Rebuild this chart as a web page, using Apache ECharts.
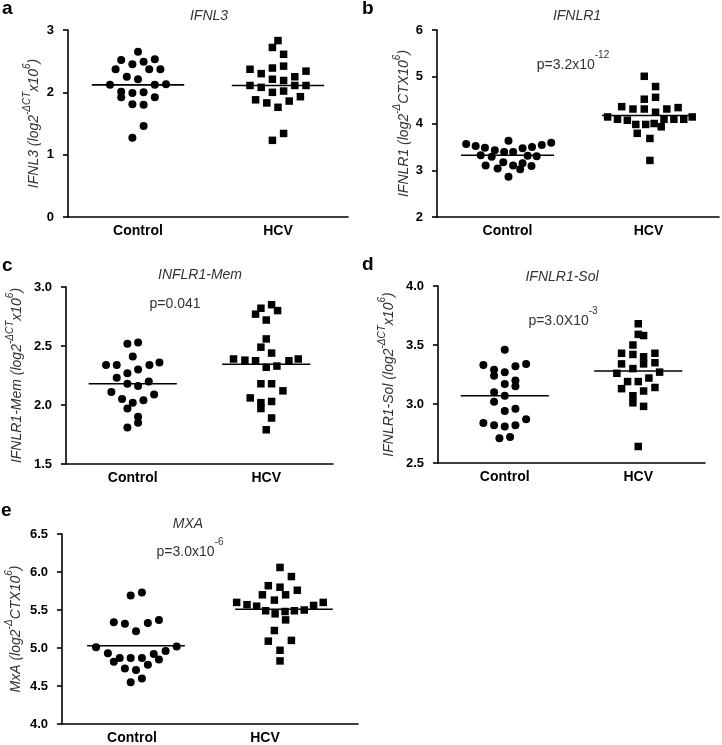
<!DOCTYPE html>
<html><head><meta charset="utf-8">
<script src="https://cdn.jsdelivr.net/npm/echarts@6/dist/echarts.min.js"></script>
<style>html,body{margin:0;padding:0;background:#fff}#c{width:722px;height:745px}</style>
</head><body><div id="c"></div>
<script>
// ---------------- DATA ----------------
const categories = ['Control', 'HCV'];

// Panel a: IFNL3
const aCtrlX = [0, -0.12, 0.04, 0.12, -0.16, -0.04, 0.08, 0.16, -0.08, 0, -0.2, 0.12, 0.2, -0.12, -0.04, 0.04, -0.12, 0.12, -0.04, 0.04, 0.04, -0.04];
const aCtrlY = [2.65, 2.52, 2.49, 2.53, 2.37, 2.45, 2.37, 2.37, 2.25, 2.21, 2.12, 2.12, 2.13, 2.01, 1.99, 2.00, 1.92, 1.92, 1.81, 1.80, 1.46, 1.27];
const aHcvX = [0, -0.04, 0.04, -0.2, -0.12, -0.04, 0.04, 0.2, -0.04, 0.04, 0.12, -0.2, -0.12, 0.12, 0.2, -0.04, 0.04, -0.16, -0.08, 0.08, 0.16, 0, -0.04, 0.04];
const aHcvY = [2.83, 2.72, 2.61, 2.37, 2.30, 2.39, 2.42, 2.34, 2.21, 2.19, 2.25, 2.11, 2.08, 2.11, 2.11, 2.00, 2.02, 1.88, 1.83, 1.86, 1.93, 1.76, 1.23, 1.34];
const aMeans = [2.12, 2.11];

// Panel b: IFNLR1
const bCtrlX = [-0.293, -0.226, -0.16, -0.09, 0.007, -0.024, 0.04, 0.107, 0.174, 0.243, 0.31, -0.19, -0.112, 0.143, 0.207, -0.155, -0.07, -0.03, 0.04, 0.107, 0.09, 0.17, 0.007];
const bCtrlY = [3.56, 3.52, 3.48, 3.43, 3.63, 3.39, 3.39, 3.47, 3.50, 3.54, 3.59, 3.32, 3.29, 3.31, 3.30, 3.10, 3.04, 3.17, 3.10, 3.15, 3.02, 3.09, 2.86];
const bHcvX = [-0.03, 0.05, -0.03, 0.05, -0.19, -0.11, -0.03, 0.13, 0.21, 0.05, -0.29, -0.22, -0.15, -0.09, -0.02, 0.04, 0.09, 0.11, 0.18, 0.25, 0.31, -0.08, 0.01, 0.01];
const bHcvY = [5.01, 4.79, 4.52, 4.56, 4.36, 4.31, 4.31, 4.31, 4.34, 4.24, 4.14, 4.09, 4.07, 3.98, 3.98, 4.00, 3.93, 4.09, 4.09, 4.09, 4.14, 3.79, 3.68, 3.21];
const bMeans = [3.32, 4.17];

// Panel c: INFLR1-Mem
const cCtrlX = [-0.04, 0.04, 0, -0.2, -0.12, 0.125, 0.2, 0.04, -0.04, -0.12, -0.04, 0.04, 0.12, -0.16, 0.16, -0.08, 0, 0.08, -0.04, 0.04, 0.04, -0.04];
const cCtrlY = [2.52, 2.53, 2.41, 2.34, 2.34, 2.34, 2.36, 2.30, 2.27, 2.23, 2.18, 2.16, 2.20, 2.11, 2.09, 2.05, 2.02, 2.04, 1.97, 1.90, 1.85, 1.81];
const cHcvX = [-0.04, -0.08, 0.04, 0.085, 0, 0, -0.04, 0.04, -0.245, -0.16, -0.08, 0.17, 0.24, 0, 0.08, -0.04, 0.04, 0.125, -0.12, -0.04, 0.04, -0.04, 0.04, 0];
const cHcvY = [2.82, 2.77, 2.85, 2.80, 2.72, 2.56, 2.49, 2.44, 2.39, 2.38, 2.375, 2.375, 2.39, 2.32, 2.33, 2.18, 2.18, 2.12, 2.06, 2.02, 2.03, 1.97, 1.89, 1.79];
const cMeans = [2.18, 2.345];

// Panel d: IFNLR1-Sol
const dCtrlX = [0, -0.16, -0.08, 0, 0.08, 0.16, -0.08, 0, 0.08, 0.08, -0.08, 0, -0.08, 0, 0.08, -0.16, -0.08, 0, 0.08, 0.16, -0.04, 0.04];
const dCtrlY = [3.46, 3.33, 3.29, 3.27, 3.32, 3.34, 3.24, 3.17, 3.20, 3.15, 3.10, 3.07, 3.02, 2.94, 2.96, 2.84, 2.82, 2.81, 2.82, 2.87, 2.71, 2.72];
const dHcvX = [0, 0, 0.04, -0.04, -0.125, -0.04, 0.04, 0.125, -0.125, 0.04, 0.125, -0.04, -0.16, 0.16, 0.08, -0.08, 0, -0.125, 0.04, 0.125, -0.04, -0.04, 0.04, 0];
const dHcvY = [3.68, 3.59, 3.58, 3.50, 3.43, 3.42, 3.40, 3.43, 3.34, 3.34, 3.35, 3.30, 3.26, 3.27, 3.22, 3.19, 3.19, 3.13, 3.11, 3.14, 3.07, 3.01, 2.98, 2.64];
const dMeans = [3.07, 3.28];

// Panel e: MXA
const eCtrlX = [-0.036, 0.04, -0.15, -0.075, 0.08, 0.155, 0, -0.27, 0.275, -0.19, 0.2, -0.11, -0.036, 0.04, 0.12, -0.15, 0.155, 0.08, -0.075, 0, -0.036, 0.04];
const eCtrlY = [5.69, 5.73, 5.34, 5.32, 5.33, 5.37, 5.22, 5.01, 5.02, 4.93, 4.96, 4.87, 4.87, 4.87, 4.92, 4.82, 4.85, 4.78, 4.73, 4.71, 4.55, 4.60];
const eHcvX = [-0.027, 0.05, -0.106, -0.027, 0.09, -0.146, 0.011, -0.065, -0.32, -0.25, -0.185, 0.265, 0.2, -0.124, -0.06, 0.007, 0.07, 0.137, 0.011, -0.065, -0.106, 0.05, -0.027, -0.027];
const eHcvY = [6.06, 5.94, 5.82, 5.80, 5.76, 5.70, 5.70, 5.63, 5.60, 5.57, 5.55, 5.60, 5.56, 5.49, 5.45, 5.48, 5.49, 5.50, 5.37, 5.23, 5.09, 5.10, 4.97, 4.83];
const eMeans = [5.03, 5.51];

// axis ranges / tick labels
const yRanges = [[0, 3, 1], [2, 6, 1], [1.5, 3.0, 0.5], [2.5, 4.0, 0.5], [4.0, 6.5, 0.5]];
const yDecimals = [0, 0, 1, 1, 1];
const titles = ['IFNL3', 'IFNLR1', 'INFLR1-Mem', 'IFNLR1-Sol', 'MXA'];
const letters = ['a', 'b', 'c', 'd', 'e'];
const yNames = [
  '{i|IFNL3 (log2}{s|-ΔCT}{i|x10}{s|6}{i|)}',
  '{i|IFNLR1 (log2}{s|-Δ}{i|CTX10}{s|6}{i|)}',
  '{i|IFNLR1-Mem (log2}{s|-ΔCT}{i|x10}{s|6}{i|)}',
  '{i|IFNLR1-Sol (log2}{s|-ΔCT}{i|x10}{s|6}{i|)}',
  '{i|MxA (log2}{s|-Δ}{i|CTX10}{s|6}{i|)}'
];
const pTexts = [null, ['p=3.2x10', '-12'], ['p=0.041', ''], ['p=3.0X10', '-3'], ['p=3.0x10', '-6']];

// ---------------- LAYOUT ----------------
const FONT = '"Liberation Sans", Arial, sans-serif';
const grids = [
  { left: 68, top: 30, width: 280, height: 187 },
  { left: 437, top: 30, width: 284, height: 187 },
  { left: 66, top: 287, width: 267, height: 177 },
  { left: 438, top: 286, width: 267, height: 177 },
  { left: 62, top: 534, width: 296, height: 191 }
];
const nameGaps = [27, 26, 42, 42, 39];
const titlePos = [[209, 16], [577, 16], [200, 275], [562, 277], [188, 524]];
const letterPos = [[2, 9], [362, 9], [2, 266], [362, 265], [1, 511]];
const pPos = [null, [573, 61], [175, 300], [563, 317], [190, 548]];
const catShift = [[0, 0], [0, 0], [0, 0], [0, 0], [8, 38]]; // label padding (px) to mimic reference label placement

const panelData = [
  [aCtrlX, aCtrlY, aHcvX, aHcvY, aMeans],
  [bCtrlX, bCtrlY, bHcvX, bHcvY, bMeans],
  [cCtrlX, cCtrlY, cHcvX, cHcvY, cMeans],
  [dCtrlX, dCtrlY, dHcvX, dHcvY, dMeans],
  [eCtrlX, eCtrlY, eHcvX, eHcvY, eMeans]
];

const xAxis = [], yAxis = [], series = [], graphic = [];
panelData.forEach((pd, k) => {
  xAxis.push({
    type: 'value', gridIndex: k, min: -0.5, max: 1.5, interval: 0.5,
    axisLine: { onZero: false, lineStyle: { color: '#000', width: 1.6 } },
    axisTick: { show: false }, splitLine: { show: false },
    axisLabel: {
      margin: 7, color: '#000', fontFamily: FONT, fontWeight: 'bold', fontSize: 14,
      formatter: v => Math.abs(v) < 1e-9 ? '{c|' + categories[0] + '}' : (Math.abs(v - 1) < 1e-9 ? '{h|' + categories[1] + '}' : ''),
      rich: {
        c: { fontFamily: FONT, fontWeight: 'bold', fontSize: 14, color: '#000', padding: [0, catShift[k][0], 0, 0] },
        h: { fontFamily: FONT, fontWeight: 'bold', fontSize: 14, color: '#000', padding: [0, catShift[k][1], 0, 0] }
      }
    }
  });
  const r = yRanges[k];
  yAxis.push({
    type: 'value', gridIndex: k, min: r[0], max: r[1], interval: r[2],
    axisLine: { show: true, onZero: false, lineStyle: { color: '#000', width: 1.6 } },
    axisTick: { show: true, length: 5, lineStyle: { color: '#000', width: 1.6 } },
    splitLine: { show: false },
    axisLabel: { margin: 14, color: '#000', fontFamily: FONT, fontWeight: 'bold', fontSize: 13,
      formatter: v => v.toFixed(yDecimals[k]) },
    name: yNames[k], nameLocation: 'middle', nameGap: nameGaps[k],
    nameTextStyle: {
      rich: {
        i: { fontFamily: FONT, fontStyle: 'italic', fontSize: 14, color: '#333', lineHeight: 19, verticalAlign: 'bottom' },
        s: { fontFamily: FONT, fontStyle: 'italic', fontSize: 10, color: '#333', lineHeight: 19, verticalAlign: 'top' }
      }
    }
  });
  const ctrl = pd[0].map((dx, i) => [0 + dx, pd[1][i]]);
  const hcv = pd[2].map((dx, i) => [1 + dx, pd[3][i]]);
  series.push({ type: 'scatter', xAxisIndex: k, yAxisIndex: k, symbol: 'circle', symbolSize: 8,
    itemStyle: { color: '#000', opacity: 1 }, data: ctrl, silent: true, z: 3 });
  series.push({ type: 'scatter', xAxisIndex: k, yAxisIndex: k, symbol: 'rect', symbolSize: 7.5,
    itemStyle: { color: '#000', opacity: 1 }, data: hcv, silent: true, z: 3 });
  pd[4].forEach((m, ci) => {
    series.push({ type: 'line', xAxisIndex: k, yAxisIndex: k, symbol: 'none', silent: true, z: 4,
      lineStyle: { color: '#000', width: 1.6 }, data: [[ci - 0.33, m], [ci + 0.33, m]] });
  });
  graphic.push({ type: 'text', x: letterPos[k][0], y: letterPos[k][1],
    style: { text: letters[k], font: 'bold 19px ' + FONT, fill: '#000', textVerticalAlign: 'middle' } });
  graphic.push({ type: 'text', x: titlePos[k][0], y: titlePos[k][1],
    style: { text: titles[k], font: 'italic 14px ' + FONT, fill: '#333', textAlign: 'center', textVerticalAlign: 'middle' } });
  if (pTexts[k]) {
    graphic.push({ type: 'text', x: pPos[k][0], y: pPos[k][1],
      style: { text: '{n|' + pTexts[k][0] + '}' + (pTexts[k][1] ? '{s|' + pTexts[k][1] + '}' : ''),
        textAlign: 'center', textVerticalAlign: 'middle',
        rich: {
          n: { fontFamily: FONT, fontSize: 14, fill: '#333', color: '#333', lineHeight: 22, verticalAlign: 'bottom' },
          s: { fontFamily: FONT, fontSize: 10, fill: '#333', color: '#333', lineHeight: 22, verticalAlign: 'top' }
        } } });
  }
});

const chart = echarts.init(document.getElementById('c'), null, { renderer: 'canvas' });
chart.setOption({
  backgroundColor: '#fff',
  animation: false,
  grid: grids,
  xAxis: xAxis,
  yAxis: yAxis,
  series: series,
  graphic: graphic
});
</script>
</body></html>
